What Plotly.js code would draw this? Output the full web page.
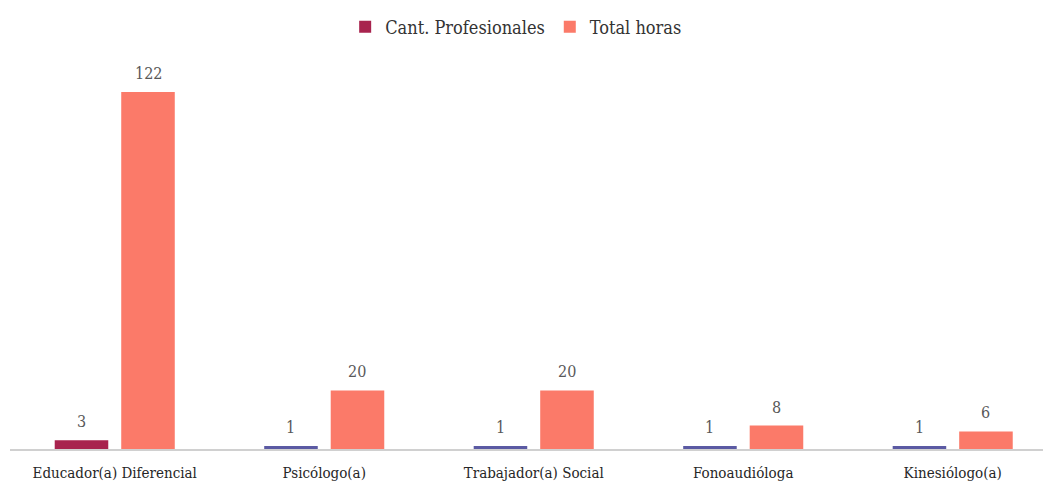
<!DOCTYPE html>
<html><head><meta charset="utf-8">
<script src="https://cdn.plot.ly/plotly-3.0.1.min.js"></script>
<style>html,body{margin:0;padding:0;background:#fff}#chart{width:1043px;height:488px}</style>
</head><body><div id="chart"></div>
<script>
const categories = ["Educador(a) Diferencial","Psicólogo(a)","Trabajador(a) Social","Fonoaudióloga","Kinesiólogo(a)"];
const cantProfesionales = [3,1,1,1,1];
const totalHoras = [122,20,20,8,6];
const cantColors = ["#a8234e","#5b5aa3","#5b5aa3","#5b5aa3","#5b5aa3"];
const horasColor = "#fb7a69";

const bargap = 0.365;
const serif = "DejaVu Serif Condensed, DejaVu Serif, serif";
const data = [
  {type:"bar", name:"Cant. Profesionales", x:categories, y:cantProfesionales,
   marker:{color:cantColors}, hoverinfo:"none"},
  {type:"bar", name:"Total horas", x:categories, y:totalHoras,
   marker:{color:horasColor}, hoverinfo:"none"}
];
const slot = (1 - bargap) / 2;
const annotations = [];
[cantProfesionales, totalHoras].forEach((vals, s) => {
  vals.forEach((v, i) => {
    annotations.push({x: i + (s === 0 ? -slot/2 : slot/2), y: v, xref:"x", yref:"y",
      text: String(v), showarrow:false, yanchor:"bottom", yshift:7,
      font:{family:serif, size:16, color:"#595959"}});
  });
});
const layout = {
  width:1043, height:488,
  margin:{l:10, r:0, t:60, b:39},
  paper_bgcolor:"#fff", plot_bgcolor:"#fff",
  barmode:"group", bargap:bargap, bargroupgap:0.195,
  font:{family:serif, color:"#262626"},
  showlegend:true,
  legend:{orientation:"h", x:0.49, xanchor:"center", y:1.085, yanchor:"middle",
          font:{size:18, color:"#333333"}, itemwidth:30, traceorder:"normal"},
  annotations: annotations,
  xaxis:{type:"category", range:[-0.5, 4.431], showline:true, linecolor:"#d0d0d0", linewidth:1.5,
         ticks:"", showgrid:false, ticklabelstandoff:9, tickfont:{size:15, color:"#262626"}, fixedrange:true},
  yaxis:{range:[0,132.9], visible:false, showgrid:false, zeroline:false, fixedrange:true}
};
Plotly.newPlot("chart", data, layout, {displayModeBar:false, staticPlot:true});
</script></body></html>
